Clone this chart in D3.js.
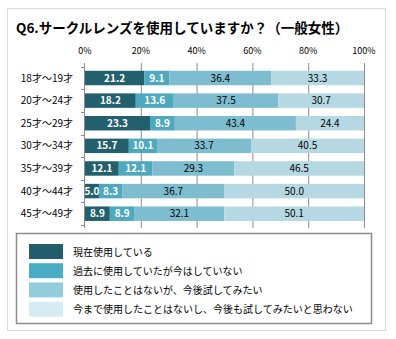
<!DOCTYPE html>
<html lang="ja">
<head>
<meta charset="UTF-8">
<title>Q6 サークルレンズ</title>
<script src="https://d3js.org/d3.v7.min.js"></script>
<style>
  body { margin: 0; background: #fff; }
  text { font-family: "Noto Sans CJK JP", "Noto Sans", sans-serif; }
</style>
</head>
<body>
<div id="chart"></div>
<script>
  // data
  const ages = ["18才～19才", "20才～24才", "25才～29才", "30才～34才", "35才～39才", "40才～44才", "45才～49才"];
  const seriesNames = [
    "現在使用している",
    "過去に使用していたが今はしていない",
    "使用したことはないが、今後試してみたい",
    "今まで使用したことはないし、今後も試してみたいと思わない"
  ];
  const current = [21.2, 18.2, 23.3, 15.7, 12.1, 5.0, 8.9];
  const past    = [9.1, 13.6, 8.9, 10.1, 12.1, 8.3, 8.9];
  const wantTry = [36.4, 37.5, 43.4, 33.7, 29.3, 36.7, 32.1];
  const never   = [33.3, 30.7, 24.4, 40.5, 46.5, 50.0, 50.1];
  const ticks = [0, 20, 40, 60, 80, 100];

  const barColors = ["#23606e", "#4ea9bf", "#7dbdcf", "#b5d8e2"];
  const legendColors = ["#215f6e", "#4bacc6", "#92cddc", "#d5ecf2"];
  const labelColors = ["#fff", "#fff", "#000", "#000"];

  const W = 396, H = 339;
  const svg = d3.select("#chart").append("svg")
    .attr("width", W).attr("height", H);

  // outer frame
  svg.append("rect")
    .attr("x", 7.5).attr("y", 8.5).attr("width", 378).attr("height", 322)
    .attr("fill", "#fff").attr("stroke", "#d9d9d9");

  svg.append("text")
    .attr("x", 16).attr("y", 33)
    .attr("font-size", 13.5).attr("font-weight", "bold")
    .text("Q6.サークルレンズを使用していますか？（一般女性）");

  const x = d3.scaleLinear().domain([0, 100]).range([85, 364]);
  const y = d3.scaleBand().domain(ages).range([66.7, 225]).paddingInner(0.36).paddingOuter(0.18);

  // grid lines
  svg.append("g").selectAll("line")
    .data(ticks.slice(1))
    .join("line")
    .attr("x1", d => x(d) + 0.5).attr("x2", d => x(d) + 0.5)
    .attr("y1", 63).attr("y2", 228)
    .attr("stroke", "#8c8c8c");

  // top tick labels
  svg.append("g").selectAll("text")
    .data(ticks)
    .join("text")
    .attr("x", d => x(d)).attr("y", 54)
    .attr("text-anchor", "middle")
    .attr("font-size", 9)
    .text(d => d + "%");

  // stacked bars
  const rows = ages.map((a, i) => ({ age: a, vals: [current[i], past[i], wantTry[i], never[i]] }));
  const stack = d3.stack().keys([0, 1, 2, 3]).value((d, k) => d.vals[k]);
  const layers = stack(rows);

  const g = svg.append("g");
  layers.forEach((layer, k) => {
    g.selectAll(".b" + k)
      .data(layer)
      .join("rect")
      .attr("x", d => x(d[0]))
      .attr("y", d => y(d.data.age))
      .attr("width", d => x(d[1]) - x(d[0]))
      .attr("height", y.bandwidth())
      .attr("fill", barColors[k]);
    g.selectAll(".t" + k)
      .data(layer)
      .join("text")
      .attr("x", d => (x(d[0]) + x(d[1])) / 2)
      .attr("y", d => y(d.data.age) + y.bandwidth() / 2 + 3.5)
      .attr("text-anchor", "middle")
      .attr("font-size", 10)
      .attr("font-weight", k < 2 ? "bold" : "normal")
      .attr("fill", labelColors[k])
      .text(d => d.data.vals[k].toFixed(1));
  });

  // category axis
  const step = y.step();
  const bounds = d3.range(ages.length + 1).map(i => 66.7 + i * step);
  svg.append("line")
    .attr("x1", 84.5).attr("x2", 84.5).attr("y1", 63).attr("y2", 228)
    .attr("stroke", "#8c8c8c");
  svg.append("g").selectAll("line")
    .data(bounds)
    .join("line")
    .attr("x1", 81).attr("x2", 85)
    .attr("y1", d => Math.round(d) + 0.5).attr("y2", d => Math.round(d) + 0.5)
    .attr("stroke", "#8c8c8c");

  svg.append("g").selectAll("text")
    .data(ages)
    .join("text")
    .attr("x", 73)
    .attr("y", d => y(d) + y.bandwidth() / 2 + 3.5)
    .attr("text-anchor", "end")
    .attr("font-size", 10)
    .text(d => d);

  // legend
  svg.append("rect")
    .attr("x", 16.5).attr("y", 233.5).attr("width", 355).attr("height", 90)
    .attr("fill", "#fff").attr("stroke", "#8c8c8c").attr("stroke-width", 1.5);

  const leg = svg.append("g").selectAll("g")
    .data(seriesNames)
    .join("g")
    .attr("transform", (d, i) => `translate(29,${244 + i * 19.2})`);
  leg.append("rect")
    .attr("width", 34).attr("height", 15)
    .attr("fill", (d, i) => legendColors[i]);
  leg.append("text")
    .attr("x", 44).attr("y", 11.5)
    .attr("font-size", 10)
    .text(d => d);
</script>
</body>
</html>
